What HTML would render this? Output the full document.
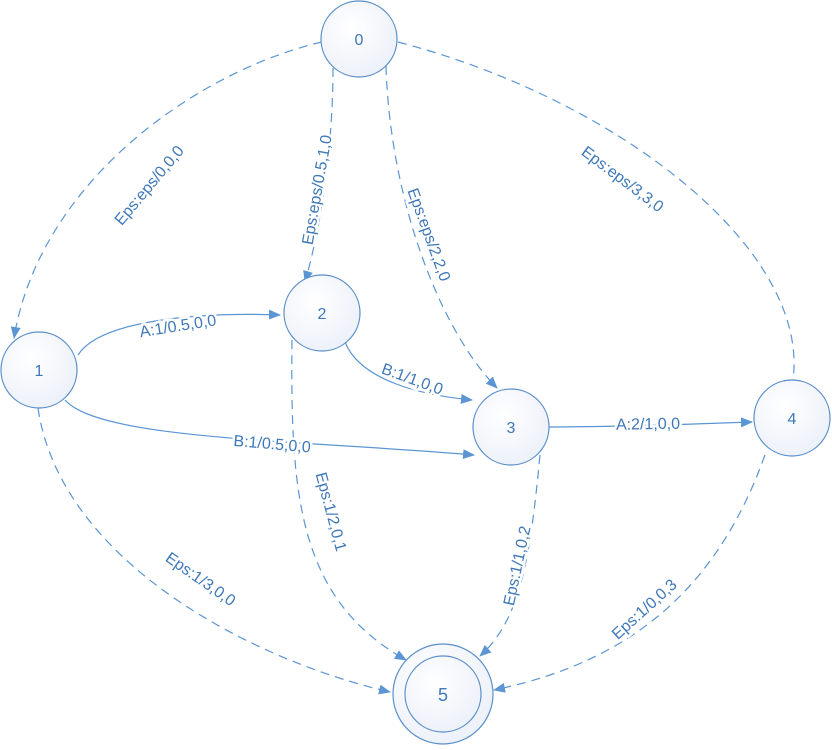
<!DOCTYPE html>
<html><head><style>html,body{margin:0;padding:0;background:#fff}</style></head><body>
<svg width="832" height="745" viewBox="0 0 832 745" xmlns="http://www.w3.org/2000/svg">
<defs>
<radialGradient id="g" cx="0.4" cy="0.35" r="0.8"><stop offset="0" stop-color="#ffffff"/><stop offset="1" stop-color="#e9eef8"/></radialGradient>
<marker id="a" markerWidth="12" markerHeight="10" refX="11" refY="5" orient="auto" markerUnits="userSpaceOnUse"><path d="M0,0 L12,5 L0,10 z" fill="#5b95d3"/></marker>
</defs>
<g fill="none" stroke="#5b95d3" stroke-width="1.2">
<g stroke-dasharray="9,6">
<path d="M322,42 C200,70 40,180 14,338" marker-end="url(#a)"/>
<path d="M333,68 C333,150 320,230 305,282" marker-end="url(#a)"/>
<path d="M386,66 C390,200 440,330 497,388" marker-end="url(#a)"/>
<path d="M398,42 C620,100 810,250 793,380"/>
<path d="M292,340 C290,500 300,600 406,660" marker-end="url(#a)"/>
<path d="M38,408 C60,560 250,660 390,692" marker-end="url(#a)"/>
<path d="M540,455 C530,560 520,620 480,656" marker-end="url(#a)"/>
<path d="M765,455 C720,580 640,660 494,690" marker-end="url(#a)"/>
</g>
<path d="M78,355 C100,320 200,312 280,315" marker-end="url(#a)"/>
<path d="M345,342 C360,380 420,395 472,400" marker-end="url(#a)"/>
<path d="M65,400 C100,440 300,440 474,455" marker-end="url(#a)"/>
<path d="M548,427 C620,427 690,424 752,422" marker-end="url(#a)"/>
</g>
<g fill="url(#g)" stroke="#5b8fc9" stroke-width="1.2">
<circle cx="359" cy="39" r="38"/>
<circle cx="39" cy="370" r="38"/>
<circle cx="322" cy="313" r="38"/>
<circle cx="511" cy="427" r="38"/>
<circle cx="792" cy="418" r="38"/>
<circle cx="443" cy="694" r="50"/>
<circle cx="443" cy="694" r="38"/>
</g>
<g font-family="Liberation Sans, sans-serif" font-size="16" fill="#3f78b8" text-anchor="middle">
<text x="359" y="45">0</text><text x="39" y="376">1</text><text x="322" y="319">2</text>
<text x="511" y="433">3</text><text x="792" y="424">4</text><text x="443" y="701" font-size="18">5</text>
</g>
<g font-family="Liberation Sans, sans-serif" font-size="16" fill="#3f78b8" text-anchor="middle" stroke="#fff" stroke-width="5" paint-order="stroke" dominant-baseline="middle">
<text transform="translate(150,186) rotate(-50)">Eps:eps/0,0,0</text>
<text transform="translate(318,190) rotate(-80)">Eps:eps/0.5,1,0</text>
<text transform="translate(428,235) rotate(70)">Eps:eps/2,2,0</text>
<text transform="translate(622,180) rotate(37)">Eps:eps/3,3,0</text>
<text transform="translate(178,327) rotate(-9)">A:1/0.5,0,0</text>
<text transform="translate(412,380) rotate(20)">B:1/1,0,0</text>
<text transform="translate(272,445) rotate(5)">B:1/0.5,0,0</text>
<text transform="translate(648,425) rotate(-1)">A:2/1,0,0</text>
<text transform="translate(330,512) rotate(75)">Eps:1/2,0,1</text>
<text transform="translate(200,580) rotate(35)">Eps:1/3,0,0</text>
<text transform="translate(518,566) rotate(-78)">Eps:1/1,0,2</text>
<text transform="translate(645,610) rotate(-42)">Eps:1/0,0,3</text>
</g>
</svg>
</body></html>
